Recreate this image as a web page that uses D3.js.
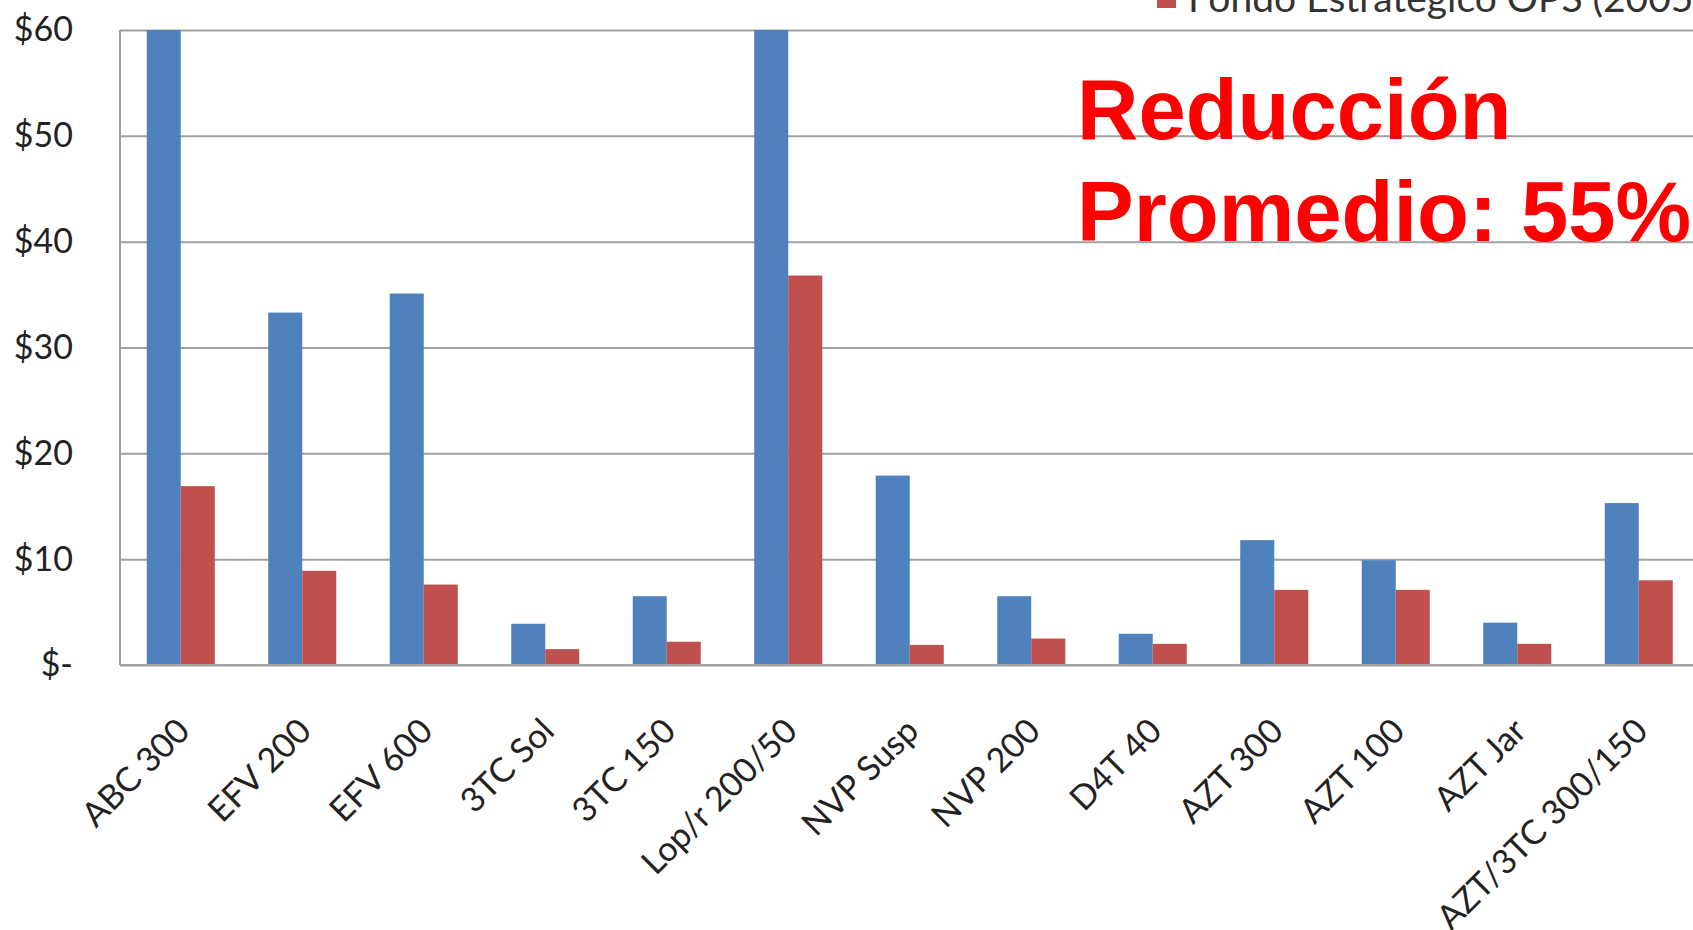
<!DOCTYPE html>
<html>
<head>
<meta charset="utf-8">
<script src="https://cdn.jsdelivr.net/npm/d3@7"></script>
<style>
	body { margin: 0; background: #fff; }
	svg { display: block; }
</style>
</head>
<body>
<div id="viz"></div>
<script>
// data
const categories = ['ABC 300', 'EFV 200', 'EFV 600', '3TC Sol', '3TC 150', 'Lop/r 200/50', 'NVP Susp',
	'NVP 200', 'D4T 40', 'AZT 300', 'AZT 100', 'AZT Jar', 'AZT/3TC 300/150'];
const seriesNames = ['Precio anterior', 'Fondo Estratégico OPS (2005)'];
const precioAnterior = [60, 33.3, 35.1, 3.9, 6.5, 60, 17.9, 6.5, 2.95, 11.8, 9.9, 4.0, 15.3];
const fondoOPS = [16.9, 8.9, 7.6, 1.5, 2.2, 36.8, 1.9, 2.5, 2.0, 7.1, 7.1, 2.0, 8.0];
const yTicks = [0, 10, 20, 30, 40, 50, 60];
const noteLines = ['Reducción', 'Promedio: 55%'];

const colors = ['#4f81bd', '#c0504d'];
const width = 1693, height = 930;
const plotLeft = 120, plotTop = 30, plotBottom = 665, plotRight = 1699.5;

const rows = categories.map((c, i) => ({ cat: c, values: [precioAnterior[i], fondoOPS[i]] }));

const svg = d3.select('#viz').append('svg')
	.attr('width', width)
	.attr('height', height)
	.style('font-family', 'Lato, sans-serif');

const xScale = d3.scaleBand()
	.domain(categories)
	.range([plotLeft, plotRight])
	.paddingInner(0.44)
	.paddingOuter(0.22);

const xSub = d3.scaleBand()
	.domain([0, 1])
	.range([0, xScale.bandwidth()]);

const yScale = d3.scaleLinear()
	.domain([0, 60])
	.range([plotBottom, plotTop])
	.clamp(true);

// gridlines + y labels
const yAxis = svg.append('g')
	.attr('transform', 'translate(' + plotLeft + ',0)')
	.call(d3.axisLeft(yScale)
		.tickValues(yTicks)
		.tickSize(-(width - plotLeft))
		.tickPadding(47)
		.tickFormat((d) => d === 0 ? '$-' : '$' + d));

yAxis.select('.domain').remove();
yAxis.selectAll('.tick line')
	.attr('stroke', '#a0a0a0')
	.attr('stroke-width', 2);
yAxis.selectAll('.tick text')
	.attr('fill', '#222')
	.style('font-size', '34px')
	.style('font-family', 'Lato, sans-serif');

// left axis line
svg.append('line')
	.attr('x1', plotLeft).attr('x2', plotLeft)
	.attr('y1', plotTop).attr('y2', plotBottom)
	.attr('stroke', '#a0a0a0')
	.attr('stroke-width', 2);

// bars
const groups = svg.append('g').selectAll('.group')
	.data(rows)
	.enter()
	.append('g')
	.attr('class', 'group')
	.attr('transform', (d) => 'translate(' + xScale(d.cat) + ',0)');

groups.selectAll('rect')
	.data((d) => d.values)
	.enter()
	.append('rect')
	.attr('x', (d, i) => xSub(i))
	.attr('width', xSub.bandwidth())
	.attr('y', (d) => yScale(d))
	.attr('height', (d) => plotBottom - yScale(d))
	.attr('fill', (d, i) => colors[i]);

// bottom axis line
svg.append('line')
	.attr('x1', plotLeft).attr('x2', width)
	.attr('y1', plotBottom).attr('y2', plotBottom)
	.attr('stroke', '#a0a0a0')
	.attr('stroke-width', 2);

// x labels, rotated
svg.append('g').selectAll('.xlabel')
	.data(categories)
	.enter()
	.append('text')
	.attr('class', 'xlabel')
	.attr('text-anchor', 'end')
	.attr('transform', (d) => {
		const cx = xScale(d) + xScale.bandwidth() / 2 + 11;
		return 'translate(' + cx + ',' + 733 + ') rotate(-45)';
	})
	.attr('fill', '#222')
	.style('font-size', '34px')
	.text((d) => d);

// legend (cut at top edge)
const legend = svg.append('g').attr('transform', 'translate(1157,0)');
legend.append('rect')
	.attr('x', 0).attr('y', -11)
	.attr('width', 19).attr('height', 19)
	.attr('fill', colors[1]);
legend.append('text')
	.attr('x', 31).attr('y', 12)
	.attr('fill', '#333')
	.style('font-size', '39px')
	.text(seriesNames[1]);

// red note
svg.append('g').selectAll('.note')
	.data(noteLines)
	.enter()
	.append('text')
	.attr('class', 'note')
	.attr('x', 1077)
	.attr('y', (d, i) => 139 + i * 102)
	.attr('fill', '#ff0000')
	.style('font-family', '"Liberation Sans", Arial, sans-serif')
	.style('font-weight', 'bold')
	.style('font-size', '85px')
	.text((d) => d);
</script>
</body>
</html>
